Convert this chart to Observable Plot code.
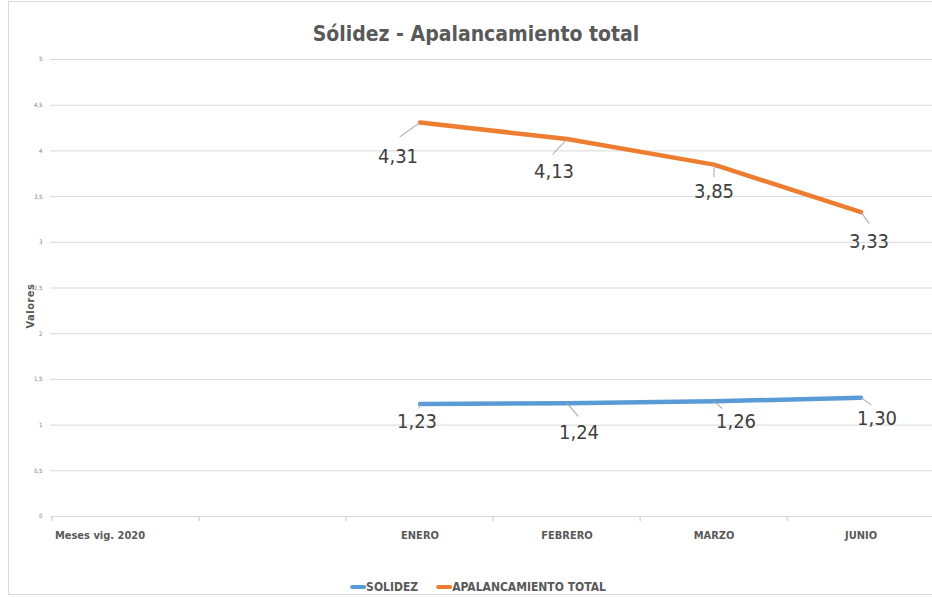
<!DOCTYPE html>
<html><head><meta charset="utf-8">
<script src="https://cdn.jsdelivr.net/npm/d3@7"></script>
<script src="https://cdn.jsdelivr.net/npm/@observablehq/plot@0.6"></script>
<style>
body{margin:0;width:932px;height:598px;overflow:hidden;background:#fff;font-family:"Liberation Sans Narrow","DejaVu Sans Condensed",sans-serif;}
#wrap{position:relative;width:932px;height:598px;overflow:hidden;}
#frame{position:absolute;left:8px;top:1px;width:940px;height:594px;border:1px solid #d9d9d9;box-sizing:border-box;}
#chart{position:absolute;left:0;top:0;}
#title{position:absolute;left:476px;top:34px;transform:translate(-50%,-50%);font-size:21px;font-weight:bold;color:#595959;white-space:nowrap;}
#ylab{position:absolute;left:30px;top:306px;transform:translate(-50%,-50%) rotate(-90deg);font-size:11px;font-weight:bold;color:#595959;white-space:nowrap;letter-spacing:0.5px;}
#legend{position:absolute;left:478px;top:587px;transform:translate(-50%,-50%);display:flex;align-items:center;font-size:12px;font-weight:bold;color:#595959;white-space:nowrap;}
.sw{display:inline-block;width:16px;height:4px;border-radius:2px;}
</style>
</head><body>
<div id="wrap">
  <div id="frame"></div>
  <div id="chart"></div>
  <div id="title">Sólidez - Apalancamiento total</div>
  <div id="ylab">Valores</div>
  <div id="legend"></div>
</div>
<script>
const categories = ["Meses vig. 2020", " ", "ENERO", "FEBRERO", "MARZO", "JUNIO"];
const months = ["ENERO", "FEBRERO", "MARZO", "JUNIO"];
const solidez = [1.23, 1.24, 1.26, 1.30];
const apalancamiento = [4.31, 4.13, 3.85, 3.33];
const yTicks = [0, 0.5, 1, 1.5, 2, 2.5, 3, 3.5, 4, 4.5, 5];
const seriesNames = ["SOLIDEZ", "APALANCAMIENTO TOTAL"];
const colors = ["#5B9BD5", "#ED7D31"];

// label placement (pixel offsets from point): [label dx, dy], [leader dx, dy]
const labelOffsets = [
  [[-3, 18], [12, 29], [22, 20], [16, 21]],
  [[-22, 34], [-13, 33], [0, 27], [8, 29]]
];
const leaderOffsets = [
  [[-1, 4], [11, 13], [8, 7], [10, 7]],
  [[-20, 14], [-14, 15], [0, 12], [8, 11]]
];

const fmt = v => v.toFixed(2).replace(".", ",");
const fmtTick = v => String(v).replace(".", ",");
const series = [solidez, apalancamiento];
const xRange = [50, 936];
const bw = (xRange[1] - xRange[0]) / categories.length;
const lineShape = {draw(ctx, l) { ctx.moveTo(0, 0); ctx.lineTo(0, -l); }};

const marks = [
  Plot.ruleY(yTicks, {y: d => d, stroke: "#d9d9d9", strokeWidth: 1, strokeOpacity: 1}),
  Plot.axisY({ticks: yTicks, tickSize: 0, tickPadding: 8, fontSize: 6, tickFormat: fmtTick, fill: "#808080", label: null}),
  Plot.vector(categories, {x: d => d, y: () => 0, length: 4, rotate: 180, anchor: "start", dx: -bw / 2, stroke: "#d9d9d9", shape: lineShape}),
  Plot.text(months, {x: d => d, y: () => 0, dy: 19, text: d => d, fontSize: 11, fontWeight: "bold", fill: "#595959", lineAnchor: "middle"}),
  Plot.text([categories[0]], {x: d => d, y: () => 0, dy: 19, dx: -26, text: d => d, fontSize: 11, fontWeight: "bold", fill: "#595959", lineAnchor: "middle"})
];

series.forEach((vals, s) => {
  const data = months.map((m, i) => ({m, v: vals[i]}));
  marks.push(Plot.line(data, {x: "m", y: "v", stroke: colors[s], strokeWidth: 4.5, strokeLinecap: "round", strokeLinejoin: "round"}));
  data.forEach((d, i) => {
    const [ldx, ldy] = leaderOffsets[s][i];
    const len = Math.hypot(ldx, ldy);
    const ang = Math.atan2(ldx, -ldy) * 180 / Math.PI;
    marks.push(Plot.vector([d], {x: "m", y: "v", length: len, rotate: ang, anchor: "start", stroke: "#a6a6a6", strokeWidth: 1, shape: lineShape}));
    const [tdx, tdy] = labelOffsets[s][i];
    marks.push(Plot.text([d], {x: "m", y: "v", dx: tdx, dy: tdy, text: e => fmt(e.v), fontSize: 20, fill: "#404040", lineAnchor: "middle", textAnchor: "middle"}));
  });
});

const chart = Plot.plot({
  width: 932,
  height: 598,
  marginLeft: 50,
  marginRight: 0,
  marginTop: 59,
  marginBottom: 82,
  style: {fontFamily: '"Liberation Sans Narrow","DejaVu Sans Condensed",sans-serif', background: "transparent", overflow: "visible"},
  x: {type: "band", domain: categories, range: xRange, axis: null, padding: 0},
  y: {domain: [0, 5], range: [516, 59], axis: null},
  marks
});
document.getElementById("chart").appendChild(chart);

const legend = document.getElementById("legend");
seriesNames.forEach((n, i) => {
  const sw = document.createElement("span"); sw.className = "sw"; sw.style.background = colors[i];
  const t = document.createElement("span"); t.textContent = n; t.style.marginRight = i === 0 ? "18px" : "0";
  legend.appendChild(sw); legend.appendChild(t);
});
</script>
</body></html>
